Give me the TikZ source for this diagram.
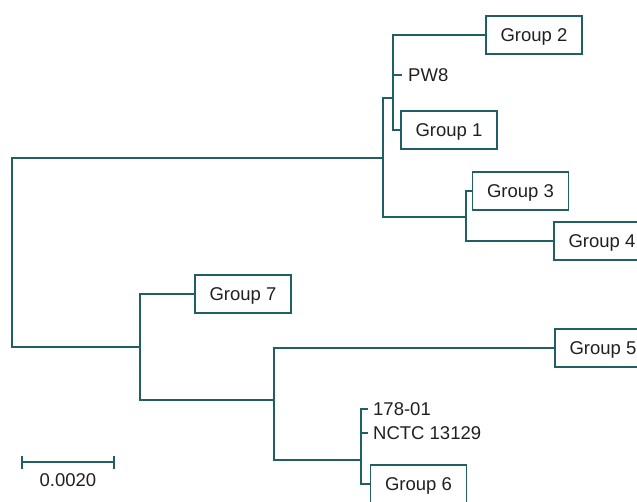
\documentclass[tikz,border=0pt]{standalone}
\usepackage{fontspec}
\setmainfont{Liberation Sans}
\definecolor{teal1}{RGB}{32,96,98}
\definecolor{txt}{RGB}{35,31,32}
\tikzset{
  grp/.style={draw=teal1, line width=1.3pt, minimum width=96pt, minimum height=38pt, inner sep=0pt, text height=13.2pt, text depth=0pt, text=txt, font=\fontsize{18.5}{21}\selectfont},
  leaf/.style={anchor=west, inner ysep=0pt, inner xsep=5pt, text height=13.2pt, text depth=0pt, text=txt, font=\fontsize{18.5}{21}\selectfont},
  br/.style={draw=teal1, line width=1.3pt}
}
\begin{document}
\begin{tikzpicture}[x=1pt,y=1pt]
\useasboundingbox (0,0) rectangle (637,-501);
% groups
\node[grp] (g2) at (534,-35) {Group 2};
\node[leaf, inner xsep=6pt] (pw8) at (402,-75) {PW8};
\node[grp] (g1) at (449,-130) {Group 1};
\node[grp] (g3) at (520.5,-191) {Group 3};
\node[grp] (g4) at (602,-241) {Group 4};
\node[grp] (g7) at (243,-294) {Group 7};
\node[grp] (g5) at (603,-348) {Group 5};
\node[leaf] (l178) at (368,-409) {178-01};
\node[leaf] (nctc) at (368,-433) {NCTC 13129};
\node[grp] (g6) at (418.5,-484) {Group 6};
% internal coordinates
\coordinate (B) at (393,-98);
\coordinate (A) at (383,-158);
\coordinate (C) at (466,-217);
\coordinate (R) at (12,-250);
\coordinate (D) at (140,-347);
\coordinate (E) at (274,-400);
\coordinate (F) at (361,-460);
% branches
\draw[br] (g2.west) -| (B) |- (g1.west);
\draw[br] (pw8.west) -- (pw8.west -| B);
\draw[br] (B) -| (A) |- (C);
\draw[br] (g3.west) -| (C) |- (g4.west);
\draw[br] (A) -| (R) |- (D);
\draw[br] (g7.west) -| (D) |- (E);
\draw[br] (g5.west) -| (E) |- (F);
\draw[br] (l178.west) -| (F) |- (g6.west);
\draw[br] (nctc.west) -- (nctc.west -| F);
% scale bar
\coordinate (s1) at (22,-462);
\coordinate (s2) at (114,-462);
\draw[br] (s1) -- (s2);
\draw[br] ([yshift=6.5pt]s1) -- ([yshift=-6.5pt]s1);
\draw[br] ([yshift=6.5pt]s2) -- ([yshift=-6.5pt]s2);
\node[text=txt, font=\fontsize{18.5}{21}\selectfont] (sl) at (68,-480) {0.0020};
\end{tikzpicture}
\end{document}
